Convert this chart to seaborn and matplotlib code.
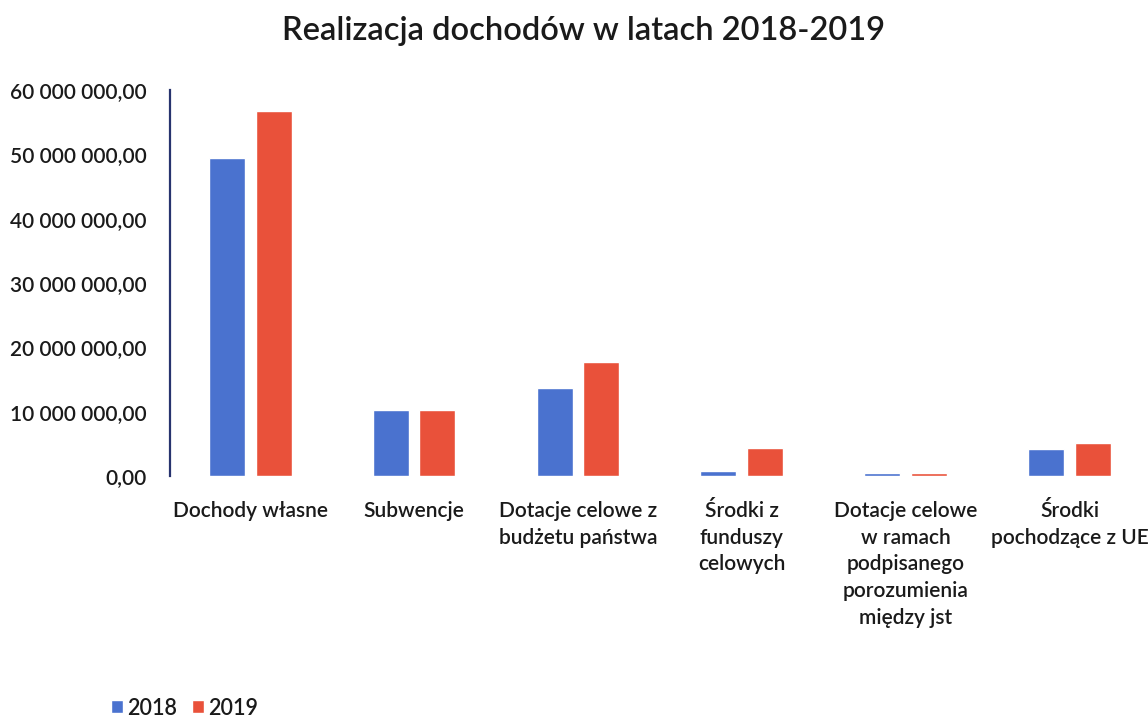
import matplotlib
matplotlib.use("Agg")
import matplotlib.pyplot as plt
import seaborn as sns
import pandas as pd
from matplotlib.ticker import FuncFormatter, MultipleLocator

categories = [
    "Dochody własne",
    "Subwencje",
    "Dotacje celowe z\nbudżetu państwa",
    "Środki z\nfunduszy\ncelowych",
    "Dotacje celowe\nw ramach\npodpisanego\nporozumienia\nmiędzy jst",
    "Środki\npochodzące z UE",
]
years = ["2018", "2019"]
values_2018 = [49_400_000, 10_300_000, 13_600_000, 700_000, 500_000, 4_200_000]
values_2019 = [56_800_000, 10_300_000, 17_700_000, 4_300_000, 400_000, 5_100_000]
colors = ["#4A72CF", "#E9513A"]

df = pd.DataFrame({
    "category": categories * 2,
    "year": [years[0]] * len(categories) + [years[1]] * len(categories),
    "value": values_2018 + values_2019,
})

sns.set_theme(style="white")
plt.rcParams["font.family"] = ["Lato", "DejaVu Sans"]

fig = plt.figure(figsize=(11.48, 7.22), dpi=100)
ax = fig.add_axes([0.148, 0.341, 0.855, 0.534])

sns.barplot(data=df, x="category", y="value", hue="year", palette=colors,
            width=0.57, gap=0.23, ax=ax, saturation=1, legend=True)

ax.set_ylim(0, 60_000_000)
ax.set_xlim(-0.49, len(categories) - 0.5)
ax.yaxis.set_major_locator(MultipleLocator(10_000_000))

def fmt(v, pos):
    s = f"{v:,.2f}"
    s = s.replace(",", " ").replace(".", ",")
    return s

ax.yaxis.set_major_formatter(FuncFormatter(fmt))
ax.set_xlabel("")
ax.set_ylabel("")
for s in ["top", "right", "bottom"]:
    ax.spines[s].set_visible(False)
ax.spines["left"].set_color("#27336E")
ax.spines["left"].set_linewidth(1.6)
ax.tick_params(axis="y", length=0, pad=17, labelsize=15, labelcolor="#1a1a1a")
ax.tick_params(axis="x", length=0, pad=18, labelsize=15, labelcolor="#1a1a1a")
for lab in ax.get_xticklabels():
    lab.set_linespacing(1.42)
for lab in ax.get_yticklabels() + ax.get_xticklabels():
    lab.set_fontweight(600)

fig.text(0.508, 0.957, "Realizacja dochodów w latach 2018-2019", ha="center",
         va="center", fontsize=23.5, color="#1a1a1a", fontweight=600)

handles, labels = ax.get_legend_handles_labels()
leg = ax.legend(handles, labels, loc="lower left", bbox_to_anchor=(0.08, -0.022),
                bbox_transform=fig.transFigure, ncol=2, frameon=False,
                handlelength=0.55, handleheight=0.55, handletextpad=0.2,
                columnspacing=0.7, prop={"size": 15.5, "weight": 600})
for t in leg.get_texts():
    t.set_color("#1a1a1a")

fig.savefig("out.png", dpi=100)
